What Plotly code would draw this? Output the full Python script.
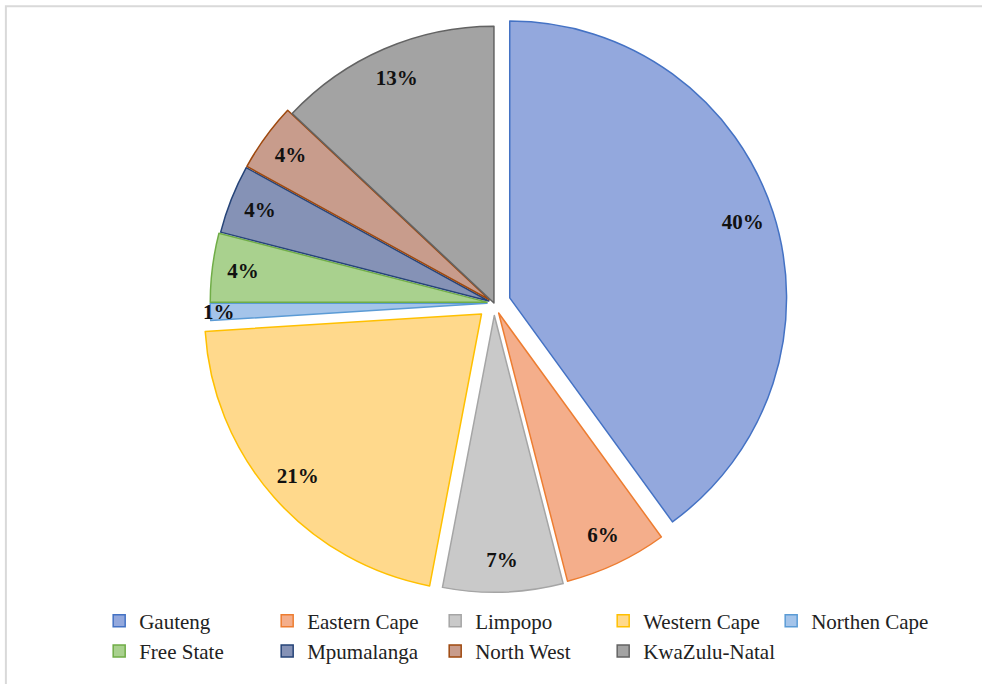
import plotly.graph_objects as go

provinces = ["Gauteng", "Eastern Cape", "Limpopo", "Western Cape", "Northen Cape",
             "Free State", "Mpumalanga", "North West", "KwaZulu-Natal"]
shares = [40, 6, 7, 21, 1, 4, 4, 4, 13]
pulls = [0.06, 0.04, 0.045, 0.06, 0.025, 0.025, 0.02, 0.02, 0.0]
fills = ["#93a8dd", "#f4ae8b", "#c9c9c9", "#ffd98c", "#a4c4ea",
         "#a9d18e", "#8592b6", "#c89c8c", "#a3a3a3"]
edges = ["#4472c4", "#ed7d31", "#a5a5a5", "#ffc000", "#5b9bd5",
         "#70ad47", "#264478", "#9e480e", "#636363"]

SERIF = "Liberation Serif, Times New Roman, serif"
dom = dict(x=[0.053, 0.953], y=[0.128, 0.986])

fig = go.Figure()
fig.add_trace(go.Pie(
    labels=provinces, values=shares, sort=False, direction="clockwise", rotation=0,
    pull=pulls,
    marker=dict(colors=fills, line=dict(color=edges, width=1.5)),
    textinfo="none",
    domain=dom,
    hoverinfo="label+percent",
))
# label ring: same geometry, transparent, places percentages near the rim
fig.add_trace(go.Pie(
    labels=provinces, values=shares, sort=False, direction="clockwise", rotation=0,
    pull=pulls, hole=0.77, showlegend=False,
    marker=dict(colors=["rgba(0,0,0,0)"] * len(provinces), line=dict(width=0)),
    texttemplate="%{percent:.0%}", textposition="inside", insidetextorientation="horizontal",
    textfont=dict(family=SERIF, size=21, color="#111111", weight="bold"),
    domain=dom,
    hoverinfo="skip",
))

fig.update_layout(
    width=982, height=684,
    margin=dict(l=0, r=0, t=0, b=0),
    paper_bgcolor="white", plot_bgcolor="white",
    font=dict(family=SERIF),
    uniformtext=dict(minsize=21, mode="show"),
    showlegend=True,
    legend=dict(orientation="h", x=0.101, xanchor="left", y=0.122, yanchor="top",
                entrywidth=123, entrywidthmode="pixels", traceorder="normal",
                font=dict(family=SERIF, size=21, color="#222222"),
                itemwidth=30, tracegroupgap=0),
    shapes=[dict(type="rect", xref="paper", yref="paper", x0=0.006, x1=1.05, y0=-0.05, y1=0.991,
                 line=dict(color="#d9d9d9", width=2), fillcolor="rgba(0,0,0,0)")],
)

fig.write_html("out.html", config={"displayModeBar": False},
               post_script="document.body.style.margin='0';")
